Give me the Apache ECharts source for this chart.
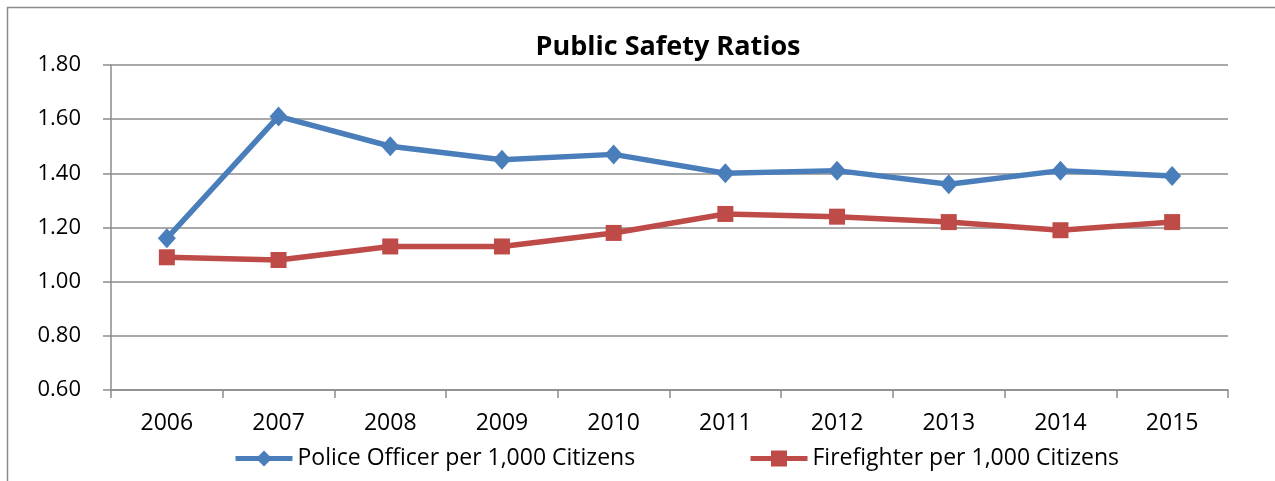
<!DOCTYPE html>
<html><head><meta charset="utf-8">
<script src="https://cdn.jsdelivr.net/npm/echarts@6/dist/echarts.min.js"></script>
<style>html,body{margin:0;padding:0;background:#fff}#c{width:1275px;height:481px}</style>
</head><body><div id="c"></div>
<script>
const years = ['2006','2007','2008','2009','2010','2011','2012','2013','2014','2015'];
const police = [1.16,1.61,1.50,1.45,1.47,1.40,1.41,1.36,1.41,1.39];
const fire = [1.09,1.08,1.13,1.13,1.18,1.25,1.24,1.22,1.19,1.22];
const policeName = 'Police Officer per 1,000 Citizens';
const fireName = 'Firefighter per 1,000 Citizens';
const FONT = '"Open Sans", Lato, sans-serif';
const chart = echarts.init(document.getElementById('c'), null, {renderer:'canvas'});
chart.setOption({
  animation:false,
  backgroundColor:'#fff',
  graphic:[{type:'rect',shape:{x:7.5,y:7.5,width:1300,height:500},style:{fill:'none',stroke:'#8c8c8c',lineWidth:1.5},silent:true}],
  title:{text:'Public Safety Ratios',left:668,top:34,textAlign:'center',padding:0,
    textStyle:{fontFamily:FONT,fontSize:27,fontWeight:'bold',color:'#000'}},
  legend:[
    {data:[policeName],left:233,top:447,padding:0,itemWidth:57,itemHeight:20,itemGap:0,
     lineStyle:{width:5},
     textStyle:{fontFamily:FONT,fontSize:23,color:'#000'}},
    {data:[fireName],left:748,top:447,padding:0,itemWidth:57,itemHeight:20,itemGap:0,
     lineStyle:{width:5},
     textStyle:{fontFamily:FONT,fontSize:23,color:'#000'}}
  ],
  grid:{left:111,right:47,top:65,bottom:91},
  xAxis:{type:'category',data:years,boundaryGap:true,
    axisLine:{lineStyle:{color:'#8c8c8c',width:1.5}},
    axisTick:{show:true,length:8,lineStyle:{color:'#8c8c8c',width:1.5}},
    axisLabel:{fontFamily:FONT,fontSize:23,color:'#000',margin:22},
    splitLine:{show:false}},
  yAxis:{type:'value',min:0.6,max:1.8,interval:0.2,
    axisLine:{show:true,lineStyle:{color:'#8c8c8c',width:1.5}},
    axisTick:{show:true,length:8,lineStyle:{color:'#8c8c8c',width:1.5}},
    axisLabel:{fontFamily:FONT,fontSize:22,color:'#000',margin:30,formatter:v=>v.toFixed(2)},
    splitLine:{show:true,lineStyle:{color:'#8c8c8c',width:1.5}}},
  series:[
    {name:policeName,type:'line',data:police,symbol:'diamond',symbolSize:[18,20],
     lineStyle:{color:'#4a7ebb',width:5.5},itemStyle:{color:'#4a7ebb'}},
    {name:fireName,type:'line',data:fire,symbol:'rect',symbolSize:16,
     lineStyle:{color:'#be4b48',width:5.5},itemStyle:{color:'#be4b48'}}
  ]
});
</script></body></html>
